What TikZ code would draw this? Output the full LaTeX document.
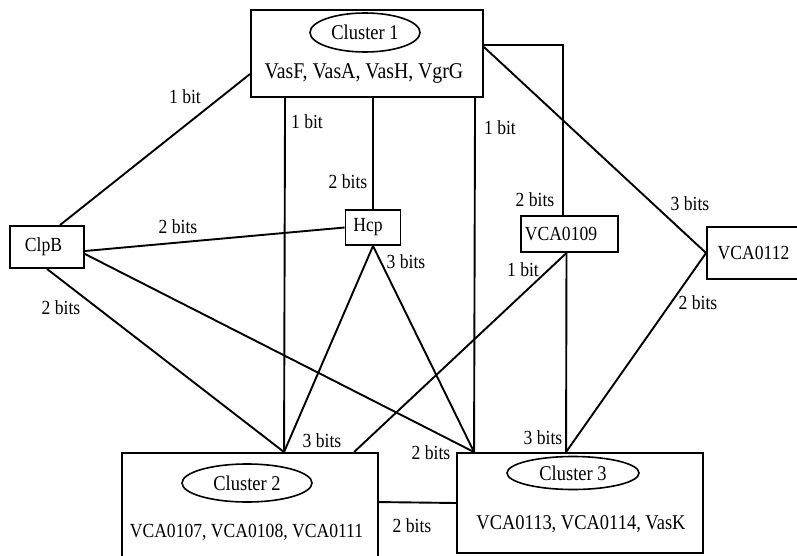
\documentclass[tikz,border=0pt]{standalone}
\usepackage{fontspec}
\setmainfont{Liberation Serif}[FakeStretch=0.88]
\usetikzlibrary{shapes.geometric}
\begin{document}
\begin{tikzpicture}[x=1pt,y=-1pt,line width=1.9pt,
  box/.style={draw,rectangle,inner sep=0pt,font=\fontsize{20}{20}\selectfont},
  oval/.style={draw,ellipse,inner sep=0pt,line width=1.6pt,font=\fontsize{21}{21}\selectfont},
  lbl/.style={font=\fontsize{20}{20}\selectfont,inner sep=0pt},
  txt/.style={inner sep=0pt,anchor=base}]
\clip (0,0) rectangle (797,556);
% boxes
\node[box,minimum width=232pt,minimum height=87pt] (c1) at (367,53.5) {};
\node[oval,minimum width=110pt,minimum height=39pt] (e1) at (365,32.5) {Cluster 1};
\node[txt,font=\fontsize{22.5}{22.5}\selectfont] (t1) at (364,79) {VasF, VasA, VasH, VgrG};

\node[box,minimum width=256pt,minimum height=110pt] (c2) at (250,508) {};
\node[oval,minimum width=130pt,minimum height=38pt] (e2) at (247,483) {Cluster 2};
\node[txt,font=\fontsize{20}{20}\selectfont] (t2) at (246.5,537) {VCA0107, VCA0108, VCA0111};

\node[box,minimum width=246pt,minimum height=100pt] (c3) at (580,503) {};
\node[oval,minimum width=132pt,minimum height=33pt] (e3) at (573,473) {Cluster 3};
\node[txt,font=\fontsize{21}{21}\selectfont] (t3) at (581,529) {VCA0113, VCA0114, VasK};

\node[box,minimum width=74pt,minimum height=42pt] (clpb) at (47,247) {\hspace*{-7pt}ClpB};
\node[box,minimum width=55pt,minimum height=35pt] (hcp) at (373,227.5) {\hspace*{-10pt}Hcp};
\node[box,minimum width=97pt,minimum height=36pt] (v109) at (569.5,234) {\hspace*{-17pt}VCA0109};
\node[box,minimum width=93pt,minimum height=52pt] (v112) at (753.5,253) {VCA0112};

% connectors
\draw ([xshift=13pt]clpb.north) -- ([yshift=-20.5pt]c1.west);
\draw ([yshift=-4pt]clpb.east) -- (hcp.west);
\draw ([yshift=-7pt]clpb.east) -- ([xshift=18pt]c3.north west);
\draw (clpb.south) -- ([xshift=163pt]c2.north west);
\draw ([xshift=35pt]c1.south west) -- ([xshift=163pt]c2.north west);
\draw (hcp.north |- c1.south) -- (hcp.north);
\draw ([xshift=225pt]c1.south west) -- ([xshift=18pt]c3.north west);
\draw ([yshift=8.5pt]c1.east) -| ([xshift=-6.5pt]v109.north);
\draw ([yshift=6.5pt]c1.east) -- (v112.west);
\draw (hcp.south) -- ([xshift=163pt]c2.north west);
\draw (hcp.south) -- ([xshift=18pt]c3.north west);
\draw ([xshift=-3pt]v109.south) -- ([xshift=233pt]c2.north west);
\draw ([xshift=-3pt]v109.south) -- ([xshift=110pt]c3.north west);
\draw (v112.west) -- ([xshift=110pt]c3.north west);
\draw ([yshift=-50pt]c2.north east) -- (c3.west);

% labels
\node[lbl] (l1) at (185,97) {1 bit};
\node[lbl] (l2) at (307,122) {1 bit};
\node[lbl] (l3) at (348,182) {2 bits};
\node[lbl] (l4) at (500,128) {1 bit};
\node[lbl] (l5) at (535,200) {2 bits};
\node[lbl] (l6) at (690,204) {3 bits};
\node[lbl] (l7) at (178,227) {2 bits};
\node[lbl] (l8) at (406,262) {3 bits};
\node[lbl] (l9) at (523,270) {1 bit};
\node[lbl] (l10) at (698,303) {2 bits};
\node[lbl] (l11) at (61,308) {2 bits};
\node[lbl] (l12) at (322,441) {3 bits};
\node[lbl] (l13) at (431,453) {2 bits};
\node[lbl] (l14) at (543,438) {3 bits};
\node[lbl] (l15) at (412,526) {2 bits};
\end{tikzpicture}
\end{document}
